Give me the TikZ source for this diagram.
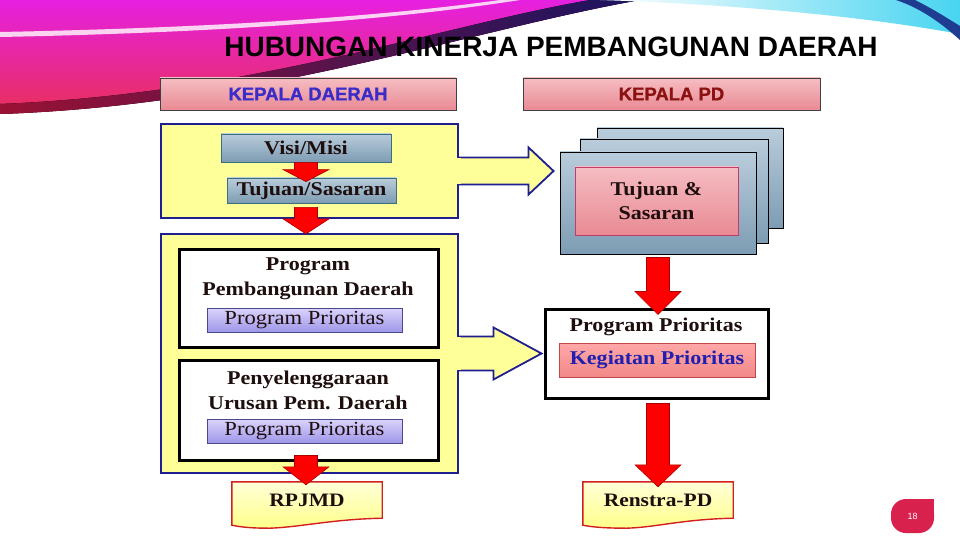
\documentclass[tikz,border=0pt]{standalone}
\usepackage{fontspec}
\setmainfont{Liberation Serif}
\newfontfamily\cam{Liberation Serif}[FakeStretch=1.13]
\newfontfamily\ari{Liberation Sans}
\newfontfamily\arih{Liberation Sans}[FakeBold=1.2]
\usetikzlibrary{calc,backgrounds}
\definecolor{pinkA}{HTML}{F5BDC2}
\definecolor{pinkB}{HTML}{E98A94}
\definecolor{pinkD}{HTML}{C03D6A}
\definecolor{steelA}{HTML}{B9CCDB}
\definecolor{steelB}{HTML}{7D9CB3}
\definecolor{steelD}{HTML}{3C6E7E}
\definecolor{lavA}{HTML}{DAD4FC}
\definecolor{lavB}{HTML}{9F96E8}
\definecolor{lavD}{HTML}{4A4A8A}
\definecolor{kegA}{HTML}{FFA8A8}
\definecolor{kegB}{HTML}{F28888}
\definecolor{kegD}{HTML}{C04848}
\definecolor{docA}{HTML}{FFFFD8}
\definecolor{docB}{HTML}{FFFF8A}
\definecolor{docR}{HTML}{D22020}
\definecolor{ylw}{HTML}{FFFF99}
\definecolor{bnavy}{HTML}{1F1F8F}
\definecolor{txtD}{HTML}{1E0E0E}
\definecolor{blueK}{HTML}{1F20B0}
\definecolor{kdText}{HTML}{3A2CC8}
\definecolor{kpdText}{HTML}{8C1212}
\definecolor{arrRed}{HTML}{FF0000}
\definecolor{arrDark}{HTML}{A80000}
\definecolor{badgeC}{HTML}{D8214D}
\definecolor{swMag}{HTML}{E620E0}
\definecolor{swRed}{HTML}{E8305A}
\definecolor{swDark}{HTML}{9A1235}
\definecolor{swNavy}{HTML}{1A1460}
\definecolor{swCyan}{HTML}{48D4F0}
\definecolor{swBlue}{HTML}{1E3C90}

\begin{document}
\begin{tikzpicture}[x=1pt, y=-1pt,
  banner/.style = {draw=black!75, line width=.8pt, top color=pinkA, bottom color=pinkB, minimum width=296pt, minimum height=32pt, inner sep=0pt, font=\arih\bfseries\fontsize{18.5}{20}\selectfont},
  ybox/.style = {draw=bnavy, line width=2.2pt, fill=ylw, minimum width=297pt, inner sep=0pt},
  steel/.style = {draw=steelD, line width=.8pt, top color=steelA, bottom color=steelB, inner sep=0pt, text=txtD, font=\cam\bfseries\fontsize{19.5}{24}\selectfont},
  wbox/.style = {draw=black, line width=3pt, fill=white, minimum width=259pt, inner sep=0pt},
  lav/.style = {draw=lavD, line width=.8pt, top color=lavA, bottom color=lavB, minimum width=195pt, minimum height=24pt, inner sep=0pt, text=txtD, font=\cam\fontsize{20}{24}\selectfont},
  btxt/.style = {align=center, inner sep=0pt, text=txtD, font=\cam\bfseries\fontsize{19.5}{25}\selectfont},
  layer/.style = {draw=black, line width=.9pt, top color=steelA, bottom color=steelB},
  pinkin/.style = {draw=pinkD, line width=.8pt, top color=pinkA, bottom color=pinkB, align=center, inner sep=0pt, text=txtD, font=\cam\bfseries\fontsize{19.5}{24}\selectfont},
  kegbox/.style = {draw=kegD, line width=.8pt, top color=kegA, bottom color=kegB, minimum width=196pt, minimum height=34pt, inner sep=0pt, text=blueK, font=\cam\bfseries\fontsize{19.5}{24}\selectfont},
  docbox/.style = {minimum width=150pt, minimum height=36pt, inner sep=0pt, text=txtD, font=\cam\bfseries\fontsize{19}{24}\selectfont},
  docline/.style = {draw=docR, line width=1.4pt, top color=docA, bottom color=docB},
  badge/.style = {fill=badgeC, rounded corners=15pt, minimum width=43pt, minimum height=34pt, inner sep=0pt, text=white, font=\ari\fontsize{9}{10}\selectfont},
  redarr/.style = {fill=arrRed, draw=arrDark, line width=.6pt, line join=miter,
    to path={let \p1=(\tikztostart), \p2=(\tikztotarget) in
      (\x1-11.5pt,\y1) -- (\x1-11.5pt,\y2+#1) -- (\x1-23pt,\y2+#1) -- (\x1,\y2)
      -- (\x1+23pt,\y2+#1) -- (\x1+11.5pt,\y2+#1) -- (\x1+11.5pt,\y1) -- cycle}},
  yarr/.style n args = {3}{fill=ylw, draw=bnavy, line width=1.8pt, line join=miter,
    to path={let \p1=(\tikztostart), \p2=(\tikztotarget) in
      (\x1,\y1+#1pt) -- (\x2-#3pt,\y1+#1pt) -- (\x2-#3pt,\y1+#2pt) -- (\x2,\y1)
      -- (\x2-#3pt,\y1-#2pt) -- (\x2-#3pt,\y1-#1pt) -- (\x1,\y1-#1pt) -- cycle}},
  gap/.style = {fill=ylw}]

\begin{scope}[on background layer]
  \fill[white] (0,0) rectangle (960,540);
  \shade[top color=swMag, bottom color=swRed] (0,0) -- (640,0) .. controls (470,30) and (260,105) .. (0,114) -- cycle;
  \fill[left color=swDark, right color=swNavy] (0,114) .. controls (260,105) and (470,30) .. (640,0) -- (590,0) .. controls (440,26) and (250,94) .. (0,104) -- cycle;
  \fill[white, opacity=.8] (0,37) .. controls (200,33) and (380,22) .. (520,0) -- (500,0) .. controls (370,18) and (200,28) .. (0,32) -- cycle;
  \shade[left color=white, right color=swCyan] (600,0) -- (960,0) -- (960,34) .. controls (850,14) and (720,4) .. (600,0) -- cycle;
  \fill[swBlue] (896,0) -- (915,0) .. controls (935,10) and (950,20) .. (960,26) -- (960,40) .. controls (940,22) and (920,8) .. (896,0) -- cycle;
\end{scope}

\useasboundingbox (0,0) rectangle (960,540);

\node[anchor=base, font=\ari\bfseries\fontsize{28}{32}\selectfont] (title) at (551,57) {HUBUNGAN KINERJA PEMBANGUNAN DAERAH};

\node[banner, text=kdText] (kd) at (308,94) {KEPALA DAERAH};
\node[banner, text=kpdText, minimum width=297pt] (kpd) at (671.5,94) {KEPALA PD};

% kepala daerah
\node[ybox, minimum height=94pt] (box1) at (309.5,171) {};
\node[steel, minimum width=170pt, minimum height=28pt] (vm) at (306,148) {Visi/Misi};
\node[steel, minimum width=169pt, minimum height=25pt] (ts) at (311.5,190.5) {Tujuan/Sasaran};
\draw[redarr=12pt] (vm.south) to ($(ts.north)+(0,4)$);

\node[ybox, minimum height=239pt] (box2) at (309.5,353.5) {};
\draw[redarr=15pt] ($(vm.south |- ts.south)+(0,4)$) to ($(box2.north)+(0,1)$);

\node[wbox, minimum height=98pt] (pa) at (308.5,298) {};
\node[btxt] (pat) at (308,279) {Program\\Pembangunan Daerah};
\node[lav] (pal) at (304.5,320) {Program Prioritas};

\node[wbox, minimum height=100pt] (pb) at (308.5,410) {};
\node[btxt] (pbt) at (308,390) {Penyelenggaraan\\Urusan Pem. Daerah};
\node[lav] (pbl) at (304.5,431) {Program Prioritas};

\node[docbox] (rp) at (307,500) {RPJMD};
\begin{scope}[on background layer]
  \path[docline] (rp.north west) -- (rp.north east) -- (rp.south east) .. controls +(-50,1) and +(30,-1) .. ($(rp.south west)+(38,10)$) .. controls +(-18,0) and +(10,2) .. ($(rp.south west)+(0,7)$) -- cycle;
\end{scope}
\draw[redarr=18pt] ($(vm.south |- pb.south)+(0,-6)$) to ($(vm.south |- rp.north)+(0,3)$);

% kepala PD
\node[layer, minimum width=186pt, minimum height=100pt] (back) at (690,178) {};
\node[layer, minimum width=188pt, minimum height=104pt] (mid) at (674,191) {};
\node[layer, minimum width=196pt, minimum height=102pt] (front) at (658,203) {};
\node[pinkin, minimum width=163pt, minimum height=68pt] (tsr) at (656.5,201) {Tujuan \&\\Sasaran};

\node[wbox, minimum width=223pt, minimum height=89pt] (pp) at (656.5,353.5) {};
\node[btxt] (ppt) at (656,327) {Program Prioritas};
\node[kegbox] (kg) at (657,360) {Kegiatan Prioritas};
\draw[redarr=23pt] ($(front.south)+(0,3)$) to ($(front.south |- pp.north)+(0,7)$);

\node[docbox] (rs) at (658,500) {Renstra-PD};
\begin{scope}[on background layer]
  \path[docline] (rs.north west) -- (rs.north east) -- (rs.south east) .. controls +(-50,1) and +(30,-1) .. ($(rs.south west)+(44,10)$) .. controls +(-20,0) and +(10,2) .. ($(rs.south west)+(0,7)$) -- cycle;
\end{scope}
\draw[redarr=22pt] ($(front.south |- pp.south)+(0,4)$) to ($(front.south |- rs.north)+(0,5)$);

% yellow arrows
\draw[yarr={13.5}{23.5}{25}] (box1.east) to ($(box1.east -| front.west)+(-6,0)$);
\fill[gap] ($(box1.east)+(-2,-12.6)$) rectangle ($(box1.east)+(2,12.6)$);
\draw[yarr={17}{26}{48}] (box2.east) to ($(pp.west)+(-2,0)$);
\fill[gap] ($(box2.east)+(-2,-16.1)$) rectangle ($(box2.east)+(2,16.1)$);

\node[badge] (pg) at (912.5,516) {18};
\fill[badgeC] ([xshift=-16pt,yshift=-16pt]pg.north east) rectangle (pg.north east);
\end{tikzpicture}
\end{document}
